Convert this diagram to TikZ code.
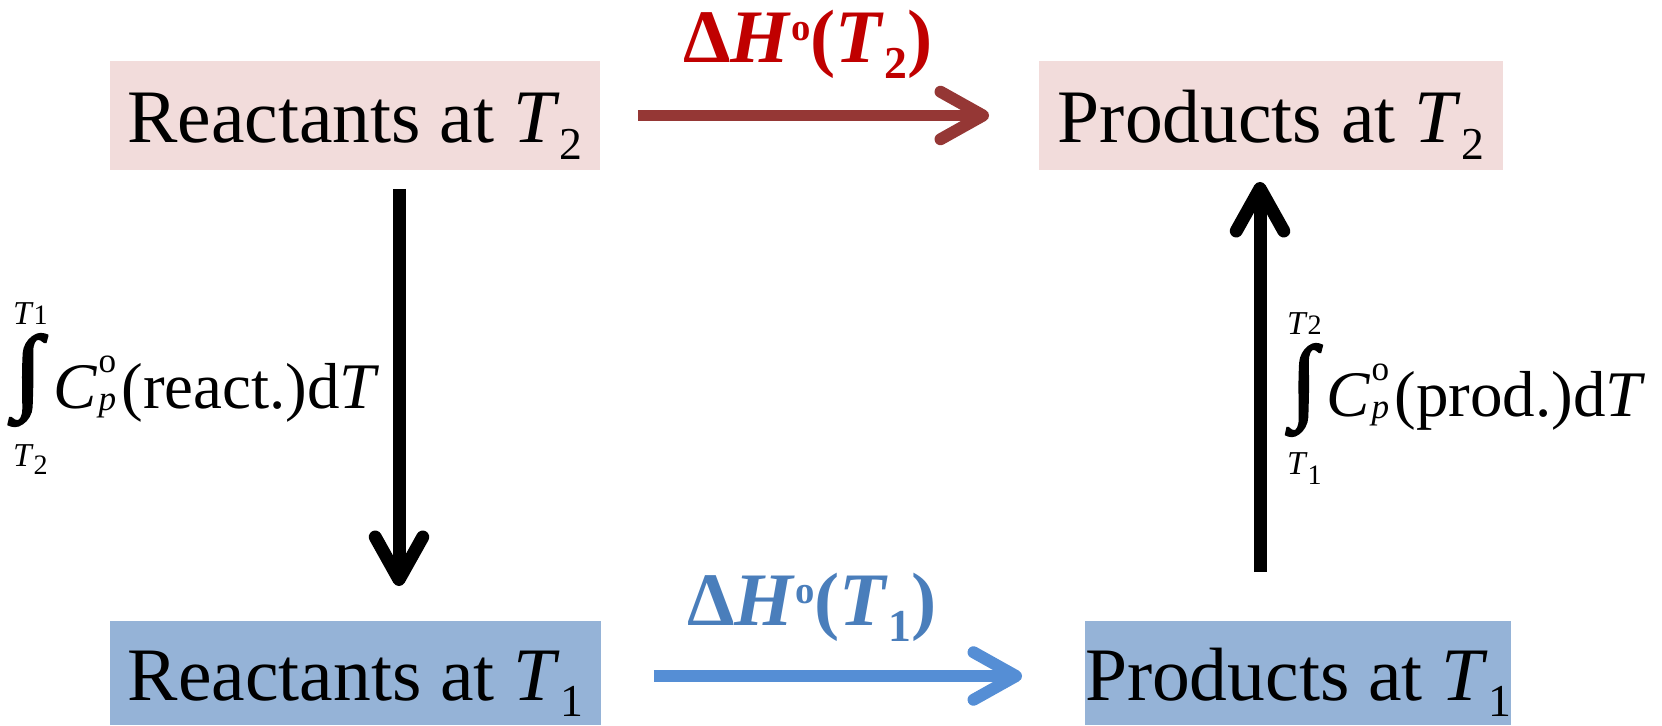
\documentclass[tikz,border=0pt]{standalone}
\usepackage{fontspec}
\setmainfont{Liberation Serif}
\newfontfamily\intfont[FakeBold=2.5]{Liberation Serif}
\usepackage{graphicx}
\usetikzlibrary{arrows.meta,positioning}

\definecolor{pinkbox}{HTML}{F2DCDB}
\definecolor{bluebox}{HTML}{95B3D7}
\definecolor{redline}{HTML}{953735}
\definecolor{redtext}{HTML}{C00000}
\definecolor{blueline}{HTML}{558ED5}
\definecolor{bluetext}{HTML}{4A7EBB}

\newcommand{\subsc}[1]{\raisebox{-0.22em}{\fontsize{26}{26}\selectfont #1}}
\newcommand{\supsc}[1]{\raisebox{0.29em}{\fontsize{22}{22}\selectfont #1}}
\newcommand{\limT}[2]{\textit{T}\raisebox{-#2}{\fontsize{16}{16}\selectfont #1}}
\newcommand{\cpo}{\textit{C}\kern1pt\rlap{\raisebox{0.55em}{\fontsize{20}{20}\selectfont o}}\raisebox{-0.04em}{\fontsize{20}{20}\selectfont\textit{p}}\kern3pt}
\newcommand{\bigint}[1]{\resizebox*{#1}{1.84cm}{\intfont\bfseries ∫}}

\begin{document}
\begin{tikzpicture}[x=0.02cm,y=-0.02cm,every node/.style={inner sep=0pt,outer sep=0pt},
  box/.style={anchor=north west,font=\fontsize{43}{50}\selectfont},
  tbox/.style={box,fill=pinkbox,minimum height=2.18cm,text height=1.64cm,text depth=0.54cm},
  bbox/.style={box,fill=bluebox,minimum height=2.08cm,text height=1.58cm,text depth=0.50cm},
  arr/.style={line width=0.24cm,-{Straight Barb[length=0.85cm,width=0.95cm,round]}},
  lbl/.style={anchor=base,font=\fontsize{43}{50}\selectfont\bfseries},
  intl/.style={anchor=base west,font=\fontsize{37}{44}\selectfont},
  lim/.style={anchor=base west,font=\fontsize{19}{19}\selectfont}]
\useasboundingbox (0,0) rectangle (1662,725);
\coordinate (downx) at (399,0);
\coordinate (upx) at (1260,0);
\node[tbox,minimum width=9.8cm] (r2) at (110,61) {Reactants at \textit{T}\subsc{2}};
\node[tbox,minimum width=9.28cm] (p2) at (1039,61) {Products at \textit{T}\subsc{2}};
\node[bbox,minimum width=9.82cm] (r1) at (110,621) {Reactants at \textit{T}\subsc{1}};
\node[bbox,minimum width=8.3cm] (p1) at (1085,621) {Products at \textit{T}\subsc{1}};

\draw[arr,redline,shorten <=0.76cm,shorten >=1cm] (r2.east) -- (p2.west);
\draw[arr,blueline,shorten <=1.06cm,shorten >=1.26cm] ([yshift=-0.06cm]r1.east) -- ([yshift=-0.06cm]p1.west);
\draw[arr,black,line width=0.26cm,shorten <=0.38cm,shorten >=0.7cm] (r2.south -| downx) -- (r1.north -| downx);
\draw[arr,black,line width=0.26cm,shorten <=0.98cm,shorten >=0.24cm] (p1.north -| upx) -- (p2.south -| upx);

\node[lbl,text=redtext] (dh2) at (808,62) {Δ\textit{H}\supsc{o}(\textit{T}\subsc{2})};
\node[lbl,text=bluetext] (dh1) at (812,625) {Δ\textit{H}\supsc{o}(\textit{T}\subsc{1})};

\node (intL) at (28,380) {\bigint{0.56cm}};
\node[lim] (intLtop) at (13,324) {\limT{1}{0.02em}};
\node[lim] (intLbot) at (13,466) {\limT{2}{0.24em}};
\node[intl] (cpL) at (53,408) {\cpo(react.)d\textit{T}};

\node (intR) at (1304,390) {\bigint{0.52cm}};
\node[lim] (intRtop) at (1287,334) {\limT{2}{0.02em}};
\node[lim] (intRbot) at (1287,474) {\limT{1}{0.3em}};
\node[intl] (cpR) at (1326,416) {\cpo(prod.)d\textit{T}};
\end{tikzpicture}
\end{document}
